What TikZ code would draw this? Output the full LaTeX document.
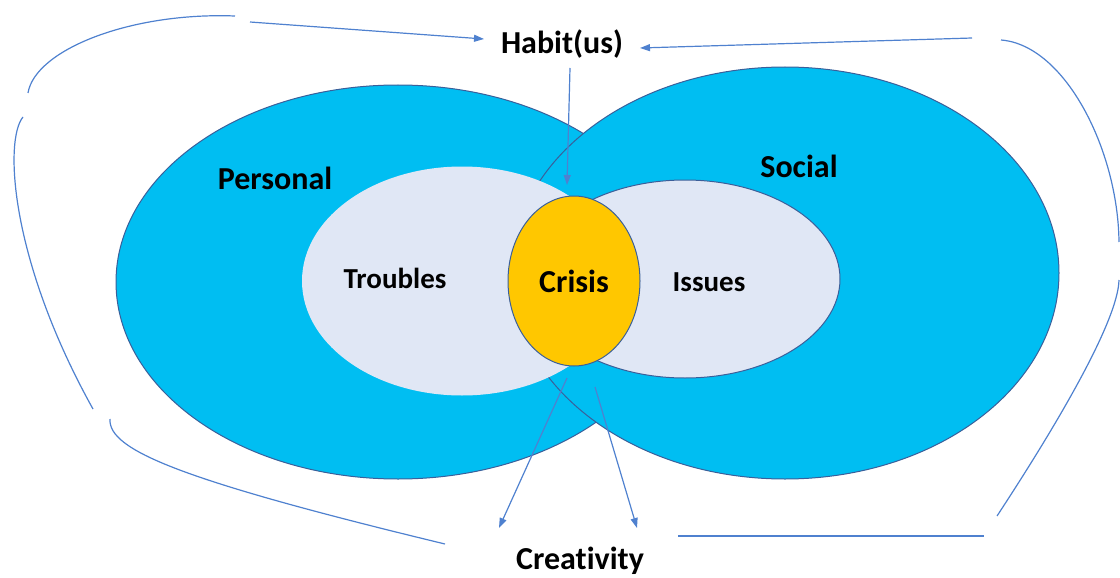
\documentclass[tikz,border=0pt]{standalone}
\usepackage{fontspec}
\setmainfont[Ligatures=NoCommon]{Carlito}
\usetikzlibrary{shapes.geometric,arrows.meta}
\definecolor{bigblue}{HTML}{00BEF2}
\definecolor{edgeblue}{HTML}{3A5F9A}
\definecolor{lightfill}{HTML}{E0E7F5}
\definecolor{gold}{HTML}{FFC700}
\definecolor{linkblue}{HTML}{4F81CF}
\tikzset{
  bigell/.style={ellipse, inner sep=0pt, fill=bigblue, draw=edgeblue, line width=1pt},
  lightell/.style={ellipse, inner sep=0pt, fill=lightfill},
  lbl/.style={font=\bfseries\fontsize{32}{38}\selectfont, inner sep=0pt},
  smlbl/.style={font=\bfseries\fontsize{29}{34}\selectfont, inner sep=0pt},
  link/.style={draw=linkblue, line width=1.2pt},
  arr/.style={link, -{Triangle[length=10pt,width=7pt]}}
}
\begin{document}
\begin{tikzpicture}[x=1pt,y=-1pt]
\useasboundingbox (0,0) rectangle (1120,578);
% big ellipses
\node[bigell, minimum width=564pt, minimum height=394pt] (personal) at (398,282) {};
\node[bigell, minimum width=548pt, minimum height=412pt] (social) at (785,273) {};
% inner ellipses
\node[lightell, minimum width=320pt, minimum height=229pt] (troublesell) at (462,281) {};
\node[lightell, draw=edgeblue, line width=1pt, minimum width=310pt, minimum height=198pt] (issuesell) at (685,279) {};
\node[ellipse, inner sep=0pt, fill=gold, draw=edgeblue, line width=1pt, minimum width=132pt, minimum height=170pt, font=\bfseries\fontsize{32}{38}\selectfont] (crisis) at (574,281) {Crisis};
% labels
\node[lbl] (habit) at (562,44) {Habit(us)};
\node[lbl] (personaltxt) at (275,178) {Personal};
\node[lbl] (socialtxt) at (799,166) {Social};
\node[smlbl] (troubles) at (395,278) {Troubles};
\node[smlbl] (issues) at (709,282) {Issues};
\node[lbl] (creativity) at (580,561) {Creativity};
% coordinates
\coordinate (a1) at (235,16);
\coordinate (a2) at (28,93);
\coordinate (b1) at (250,22);
\coordinate (b2) at (484,39);
\coordinate (c1) at (23,117);
\coordinate (c2) at (93,409);
\coordinate (d1) at (110,419);
\coordinate (d2) at (445,544);
\coordinate (e1) at (570,68);
\coordinate (e2) at (567,185);
\coordinate (f1) at (972,38);
\coordinate (f2) at (640,48);
\coordinate (g1) at (1001,40);
\coordinate (g2) at (1119,242);
\coordinate (h1) at (1119,280);
\coordinate (h2) at (997,516);
\coordinate (i1) at (678,536);
\coordinate (i2) at (984,536);
\coordinate (j1) at (567,378);
\coordinate (j2) at (499,528);
\coordinate (k1) at (595,387);
\coordinate (k2) at (637,528);
% connectors
\draw[link] (a1) .. controls (130,12) and (35,50) .. (a2);
\draw[arr] (b1) -- (b2);
\draw[link] (c1) .. controls (4,140) and (10,260) .. (c2);
\draw[link] (d1) .. controls (108,450) and (180,480) .. (d2);
\draw[arr] (e1) -- (e2);
\draw[arr] (f1) -- (f2);
\draw[link] (g1) .. controls (1065,45) and (1118,150) .. (g2);
\draw[link] (h1) .. controls (1118,320) and (1060,420) .. (h2);
\draw[link] (i1) -- (i2);
\draw[arr] (j1) -- (j2);
\draw[arr] (k1) -- (k2);
\end{tikzpicture}
\end{document}
